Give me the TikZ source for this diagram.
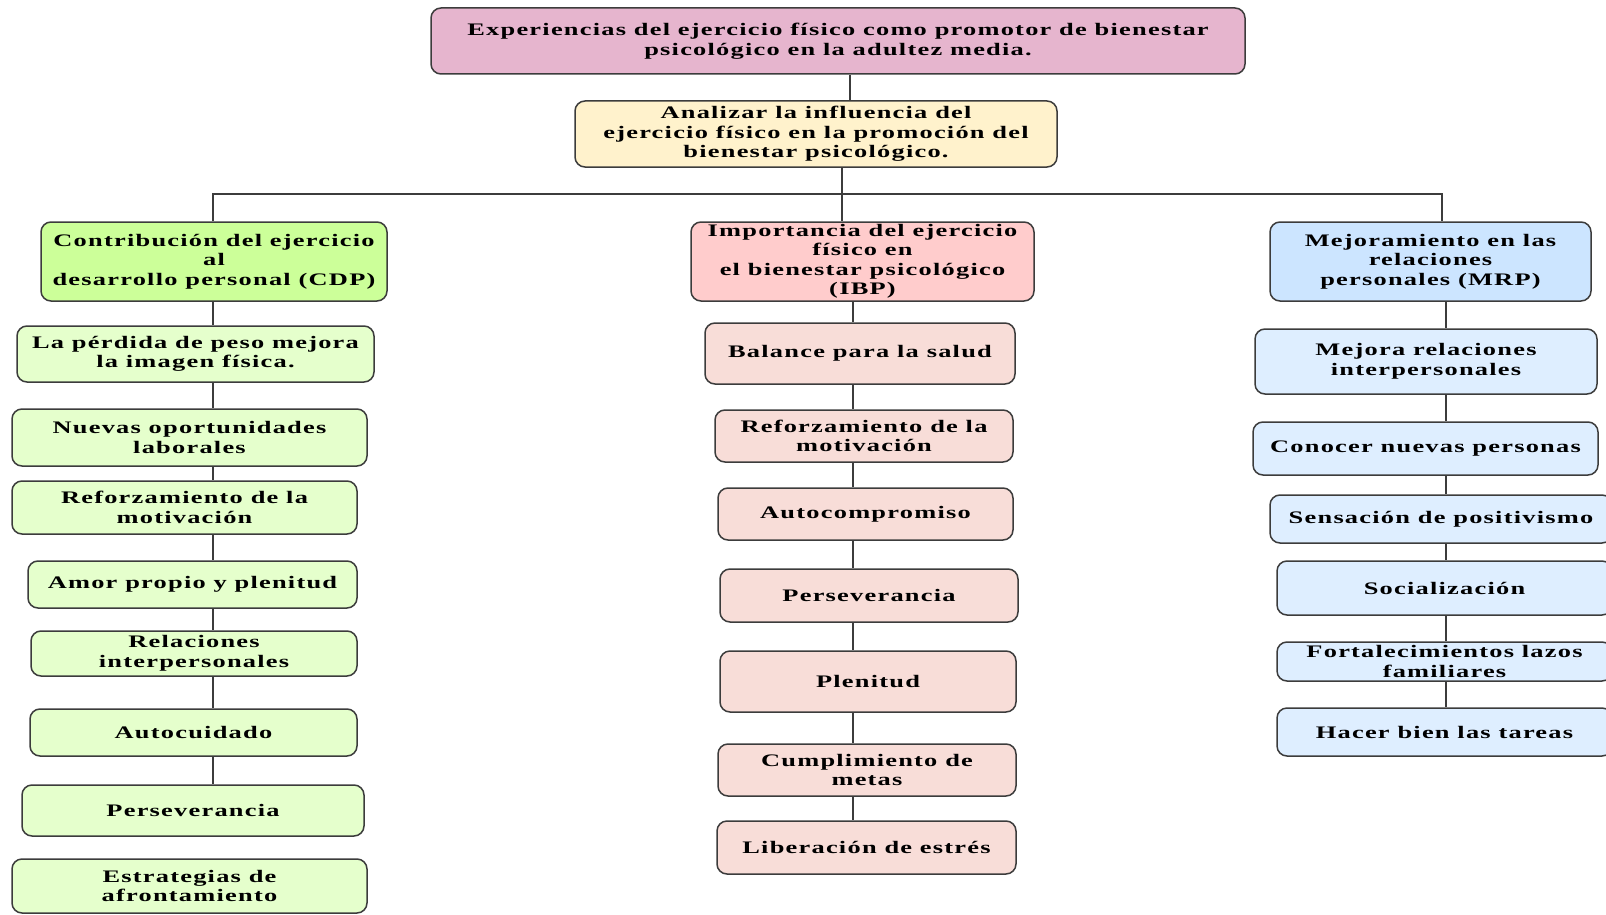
\documentclass[tikz,border=0pt]{standalone}
\usepackage{fontspec}
\setmainfont{Liberation Serif}[FakeStretch=1.5,LetterSpace=7]
\definecolor{topfill}{RGB}{230,181,206}
\definecolor{aimfill}{RGB}{255,242,204}
\definecolor{cdpfill}{RGB}{204,255,153}
\definecolor{ibpfill}{RGB}{255,204,204}
\definecolor{mrpfill}{RGB}{204,229,255}
\definecolor{cdpleaf}{RGB}{229,255,204}
\definecolor{ibpleaf}{RGB}{248,221,216}
\definecolor{mrpleaf}{RGB}{222,238,255}
\definecolor{edge}{RGB}{60,60,60}
\begin{document}
\begin{tikzpicture}[x=1pt, y=-1pt, line width=1.5pt,
  box/.style={draw=edge, rounded corners=10pt, align=center, inner sep=2pt,
    font=\bfseries\fontsize{17.6}{19.5}\selectfont},
  topbox/.style={box, fill=topfill}, aimbox/.style={box, fill=aimfill},
  cdphead/.style={box, fill=cdpfill}, ibphead/.style={box, fill=ibpfill},
  mrphead/.style={box, fill=mrpfill},
  cdpitem/.style={box, fill=cdpleaf}, ibpitem/.style={box, fill=ibpleaf},
  mrpitem/.style={box, fill=mrpleaf}, link/.style={draw=edge}]
\useasboundingbox (0,0) rectangle (1606,915);

\node[topbox, minimum width=814pt, minimum height=66pt](top) at (838,41)
  {Experiencias del ejercicio físico como promotor de bienestar\\psicológico en la adultez media.};
\node[aimbox, minimum width=482pt, minimum height=66pt](aim) at (816,134)
  {Analizar la influencia del\\ejercicio físico en la promoción del\\bienestar psicológico.};

\node[cdphead, minimum width=346pt, minimum height=79pt](cdp) at (214,261.5)
  {Contribución del ejercicio\\al\\desarrollo personal (CDP)};
\node[ibphead, inner ysep=0pt, minimum width=343pt, minimum height=79pt](ibp) at (862.5,261.5)
  {Importancia del ejercicio\\físico en\\el bienestar psicológico\\(IBP)};
\node[mrphead, minimum width=321pt, minimum height=79pt](mrp) at (1430.5,261.5)
  {Mejoramiento en las\\relaciones\\personales (MRP)};

\node[cdpitem, minimum width=357pt, minimum height=56pt](l1) at (195.5,354) {La pérdida de peso mejora\\la imagen física.};
\node[cdpitem, minimum width=355pt, minimum height=57pt](l2) at (189.5,437.5) {Nuevas oportunidades\\laborales};
\node[cdpitem, minimum width=345pt, minimum height=53pt](l3) at (184.5,507.5) {Reforzamiento de la\\motivación};
\node[cdpitem, minimum width=329pt, minimum height=47pt](l4) at (192.5,584.5) {Amor propio y plenitud};
\node[cdpitem, minimum width=326pt, minimum height=45pt](l5) at (194,653.5) {Relaciones\\interpersonales};
\node[cdpitem, minimum width=327pt, minimum height=47pt](l6) at (193.5,732.5) {Autocuidado};
\node[cdpitem, minimum width=342pt, minimum height=51pt](l7) at (193,810.5) {Perseverancia};
\node[cdpitem, minimum width=355pt, minimum height=54pt](l8) at (189.5,886) {Estrategias de\\afrontamiento};

\node[ibpitem, minimum width=310pt, minimum height=61pt](m1) at (860,353.5) {Balance para la salud};
\node[ibpitem, minimum width=298pt, minimum height=52pt](m2) at (864,436) {Reforzamiento de la\\motivación};
\node[ibpitem, minimum width=295pt, minimum height=52pt](m3) at (865.5,514) {Autocompromiso};
\node[ibpitem, minimum width=298pt, minimum height=53pt](m4) at (869,595.5) {Perseverancia};
\node[ibpitem, minimum width=296pt, minimum height=61pt](m5) at (868,681.5) {Plenitud};
\node[ibpitem, minimum width=298pt, minimum height=52pt](m6) at (867,770) {Cumplimiento de\\metas};
\node[ibpitem, minimum width=299pt, minimum height=53pt](m7) at (866.5,847.5) {Liberación de estrés};

\node[mrpitem, minimum width=342pt, minimum height=65pt](r1) at (1426,361.5) {Mejora relaciones\\interpersonales};
\node[mrpitem, minimum width=345pt, minimum height=53pt](r2) at (1425.5,448.5) {Conocer nuevas personas};
\node[mrpitem, minimum width=342pt, minimum height=48pt](r3) at (1441,519) {Sensación de positivismo};
\node[mrpitem, minimum width=335pt, minimum height=54pt](r4) at (1444.5,588) {Socialización};
\node[mrpitem, minimum width=335pt, minimum height=39pt](r5) at (1444.5,661.5) {Fortalecimientos lazos\\familiares};
\node[mrpitem, minimum width=335pt, minimum height=48pt](r6) at (1444.5,732) {Hacer bien las tareas};

\coordinate (stem) at (850,0);
\coordinate (hub) at (842,194);
\coordinate (barl) at (213,194);
\coordinate (barr) at (1442,194);
\coordinate (mspine) at (853,0);
\coordinate (rspine) at (1446,0);

\draw[link] (top.south -| stem) -- (aim.north -| stem);
\draw[link] (aim.south -| hub) -- (hub);
\draw[link] (cdp.north -| barl) -- (barl) -- (barr) -- (mrp.north -| barr);
\draw[link] (hub) -- (ibp.north -| hub);

\foreach \a/\b in {cdp/l1,l1/l2,l2/l3,l3/l4,l4/l5,l5/l6,l6/l7}
  \draw[link] (\a.south -| barl) -- (\b.north -| barl);
\foreach \a/\b in {ibp/m1,m1/m2,m2/m3,m3/m4,m4/m5,m5/m6,m6/m7}
  \draw[link] (\a.south -| mspine) -- (\b.north -| mspine);
\foreach \a/\b in {mrp/r1,r1/r2,r2/r3,r3/r4,r4/r5,r5/r6}
  \draw[link] (\a.south -| rspine) -- (\b.north -| rspine);
\end{tikzpicture}
\end{document}
